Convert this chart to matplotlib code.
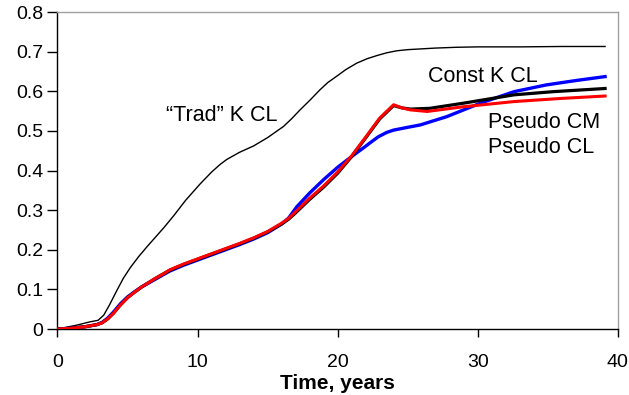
import matplotlib
matplotlib.use("Agg")
import matplotlib.pyplot as plt

plt.rcParams['font.family'] = ['Liberation Sans', 'DejaVu Sans']

# "Trad" K CL (thin black)
trad_t = [0, 1.4, 2.3, 2.9, 3.3, 3.7, 4.25, 4.7, 5.2, 5.8, 6.4, 7.0, 7.6, 8.3, 9.13, 10.18, 11.0,
          11.6, 12.09, 13.0, 14.0, 15.0, 16.13, 16.7, 17.32, 18.04, 18.75, 19.3, 19.94, 20.6,
          21.37, 22.1, 22.8, 23.5, 24.2, 25.0, 26.0, 27.0, 28.5, 30.0, 33.0, 36.0, 39.1]
trad_y = [0, 0.01, 0.018, 0.022, 0.035, 0.06, 0.098, 0.128, 0.155, 0.183, 0.208, 0.232, 0.256,
          0.286, 0.324, 0.366, 0.396, 0.415, 0.428, 0.446, 0.462, 0.483, 0.511, 0.53, 0.553,
          0.578, 0.604, 0.622, 0.638, 0.655, 0.671, 0.682, 0.69, 0.697, 0.702, 0.705, 0.707,
          0.709, 0.711, 0.712, 0.712, 0.713, 0.713]

# Const K CL (thick black)
const_t = [0, 1.0, 2.0, 2.8, 3.2, 3.6, 4.0, 4.5, 5.0, 5.5, 6.0, 6.5, 7.0, 7.5, 8.0, 9.0, 10.0,
           11.0, 12.0, 13.0, 14.0, 15.0, 16.0, 16.5, 17.0, 18.0, 19.0, 20.0, 21.0, 22.0, 23.0,
           24.0, 24.6, 25.2, 26.6, 29.0, 32.6, 35.4, 39.1]
const_y = [0, 0.002, 0.006, 0.011, 0.016, 0.026, 0.04, 0.061, 0.079, 0.093, 0.106, 0.117, 0.128,
           0.138, 0.148, 0.163, 0.176, 0.189, 0.202, 0.215, 0.229, 0.245, 0.265, 0.277, 0.293,
           0.327, 0.358, 0.393, 0.435, 0.482, 0.53, 0.564, 0.558, 0.555, 0.557, 0.57, 0.591,
           0.599, 0.607]

# Pseudo CM (blue)
cm_t = [0, 1.0, 2.0, 2.8, 3.2, 3.6, 4.0, 4.5, 5.0, 5.5, 6.0, 6.5, 7.0, 7.5, 8.0, 9.0, 10.0,
        11.0, 12.0, 13.0, 14.0, 15.0, 16.0, 16.5, 17.1, 18.0, 19.0, 20.0, 20.66, 21.3, 21.84,
        22.4, 22.9, 23.5, 24.0, 25.0, 25.9, 27.8, 30.2, 32.6, 34.9, 37.0, 39.1]
cm_y = [0, 0.002, 0.006, 0.011, 0.017, 0.028, 0.043, 0.064, 0.081, 0.094, 0.106, 0.116, 0.126,
        0.136, 0.146, 0.161, 0.174, 0.187, 0.2, 0.213, 0.227, 0.243, 0.265, 0.28, 0.309, 0.343,
        0.377, 0.408, 0.426, 0.443, 0.457, 0.472, 0.485, 0.496, 0.502, 0.509, 0.515, 0.536,
        0.57, 0.599, 0.616, 0.627, 0.637]

# Pseudo CL (red)
cl_t = [0, 1.0, 2.0, 2.8, 3.2, 3.6, 4.0, 4.5, 5.0, 5.5, 6.0, 6.5, 7.0, 7.5, 8.0, 9.0, 10.0,
        11.0, 12.0, 13.0, 14.0, 15.0, 16.0, 16.5, 17.0, 18.0, 19.0, 20.0, 21.0, 22.0, 23.0,
        24.0, 24.6, 25.2, 26.4, 29.0, 32.6, 36.0, 39.1]
cl_y = [0, 0.002, 0.006, 0.011, 0.016, 0.026, 0.04, 0.061, 0.079, 0.093, 0.106, 0.117, 0.128,
        0.138, 0.149, 0.164, 0.177, 0.19, 0.203, 0.216, 0.23, 0.246, 0.267, 0.279, 0.296, 0.33,
        0.361, 0.396, 0.437, 0.484, 0.532, 0.566, 0.558, 0.553, 0.549, 0.561, 0.574, 0.582,
        0.588]

xticks = [0, 10, 20, 30, 40]
yticks = [0, 0.1, 0.2, 0.3, 0.4, 0.5, 0.6, 0.7, 0.8]
ytick_labels = ['0', '0.1', '0.2', '0.3', '0.4', '0.5', '0.6', '0.7', '0.8']

fig = plt.figure(figsize=(6.29, 3.95), dpi=100)
ax = fig.add_axes([0.0914, 0.167, 0.8906, 0.8026])

ax.plot(trad_t, trad_y, color='black', lw=1.0, zorder=3)
ax.plot(cm_t, cm_y, color='#0000ff', lw=2.4, zorder=4)
ax.plot(const_t, const_y, color='black', lw=2.3, zorder=5)
ax.plot(cl_t, cl_y, color='#ff0000', lw=2.2, zorder=6)

ax.set_xlim(0, 40)
ax.set_ylim(0, 0.8)
ax.set_xticks(xticks)
ax.set_yticks(yticks)
ax.set_yticklabels(ytick_labels)
ax.tick_params(axis='both', direction='out', labelsize=14, color='black', width=1)
ax.tick_params(axis='y', length=7, pad=3)
ax.tick_params(axis='x', length=6, pad=12)

for s in ['top', 'right']:
    ax.spines[s].set_color('#a0a0a0')
    ax.spines[s].set_linewidth(1.0)
for s in ['left', 'bottom']:
    ax.spines[s].set_color('black')
    ax.spines[s].set_linewidth(1.0)

ax.set_xlabel('Time, years', fontsize=15, fontweight='bold', labelpad=2)

ax.text(11.75, 0.54, '\u201cTrad\u201d K CL', fontsize=15.5, ha='center', va='center')
ax.text(30.4, 0.636, 'Const K CL', fontsize=15.5, ha='center', va='center')
ax.text(30.75, 0.52, 'Pseudo CM', fontsize=15.5, ha='left', va='center')
ax.text(30.75, 0.457, 'Pseudo CL', fontsize=15.5, ha='left', va='center')

fig.savefig('out.png', dpi=100)
